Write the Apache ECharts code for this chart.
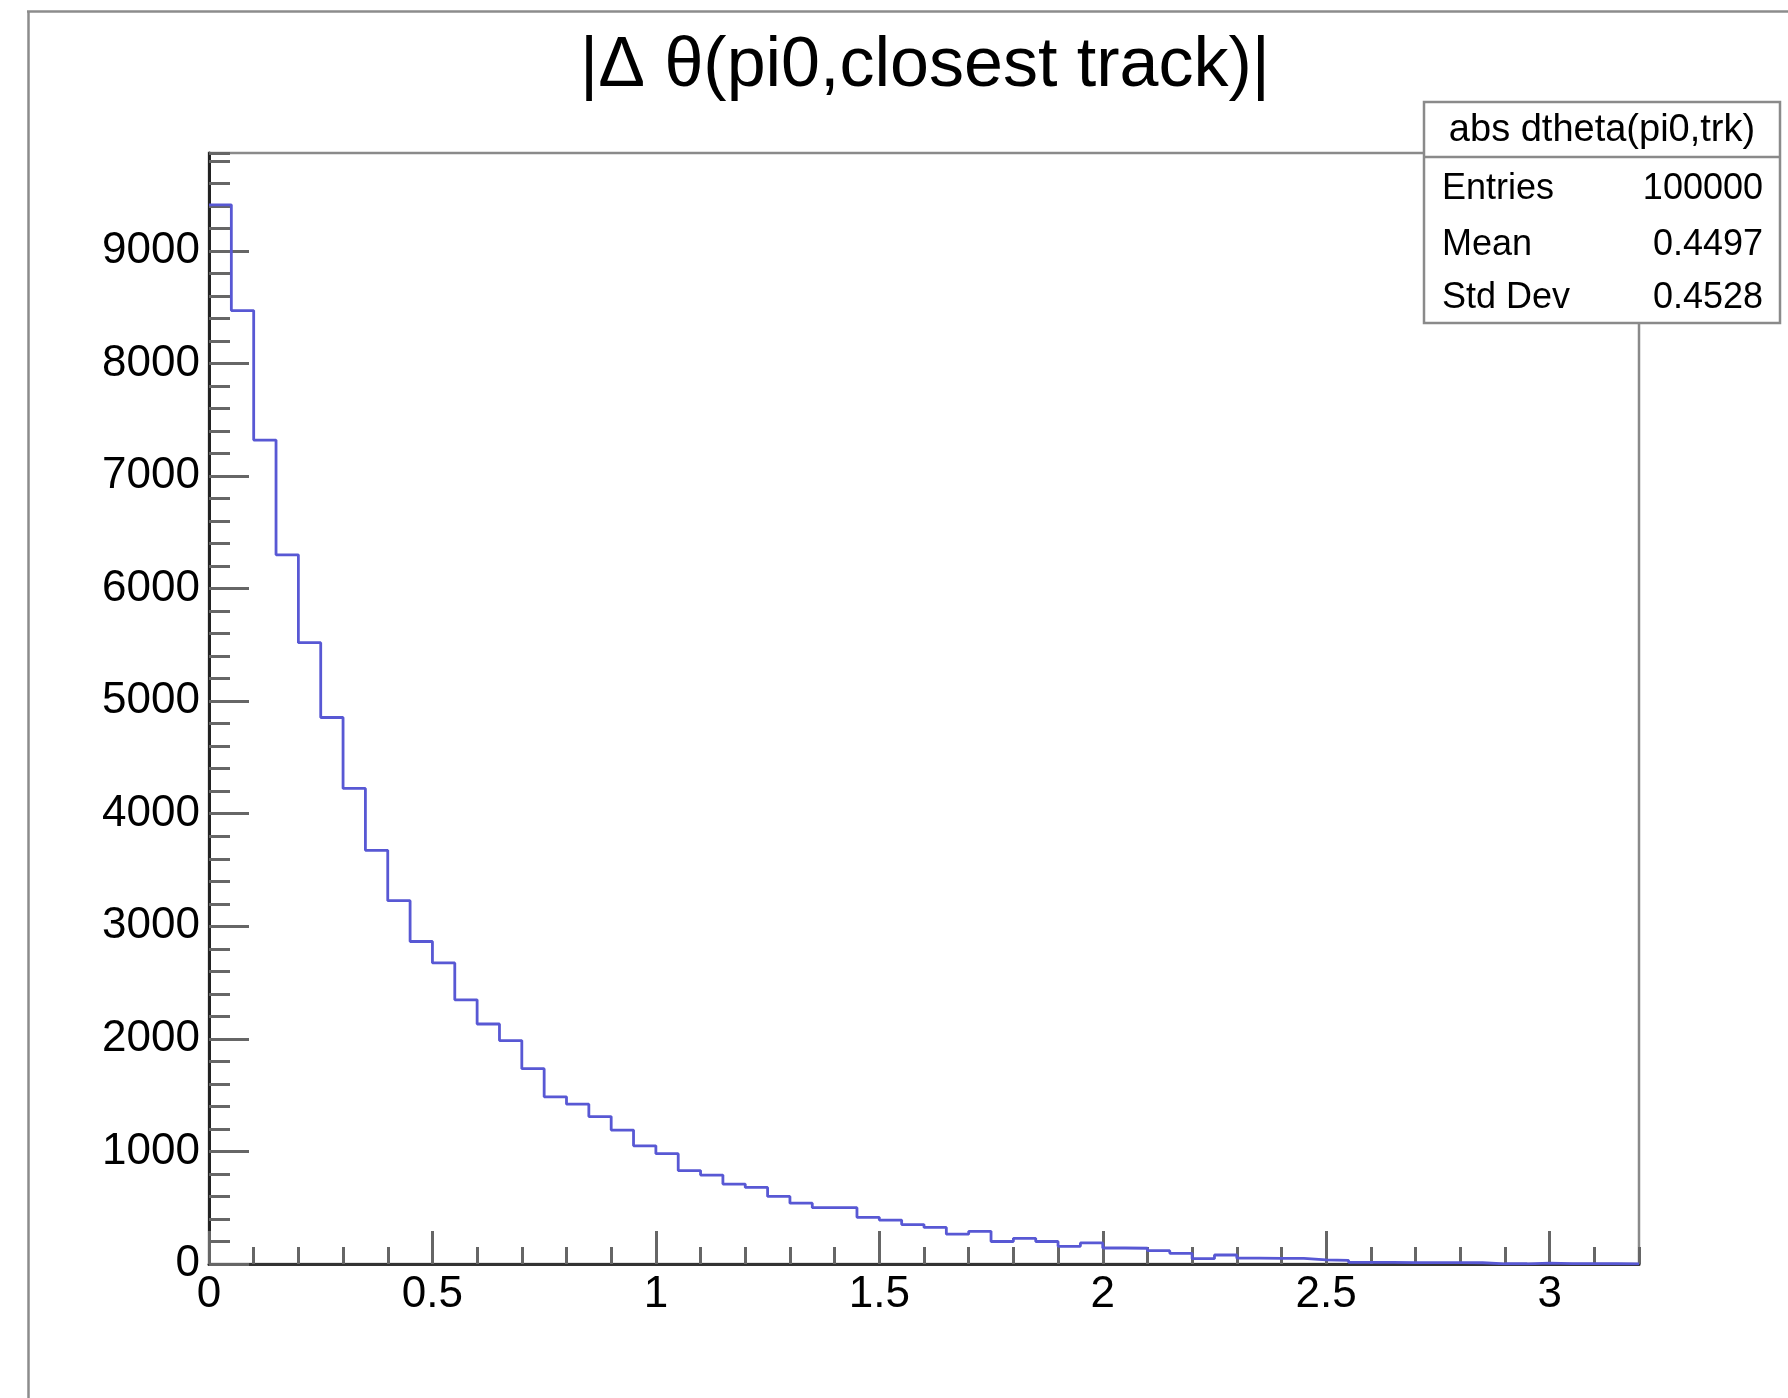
<!DOCTYPE html>
<html>
<head>
<meta charset="utf-8">
<script src="https://cdn.jsdelivr.net/npm/echarts@6/dist/echarts.min.js"></script>
<style>
html,body{margin:0;padding:0;background:#fff;}
#chart{width:1788px;height:1398px;}
</style>
</head>
<body>
<div id="chart"></div>
<script>
// ---- data ----
const titleText = '|\u0394 \u03b8(pi0,closest track)|';
const histName = 'abs dtheta(pi0,trk)';
const histMin = 0;
const binWidth = 0.05;
const counts = [
  9410, 8470, 7320, 6300, 5520, 4855, 4225, 3675, 3228, 2865,
  2675, 2347, 2132, 1985, 1735, 1485, 1420, 1310, 1190, 1050,
  980, 830, 790, 710, 680, 600, 540, 500, 500, 415,
  390, 350, 325, 265, 290, 200, 228, 200, 157, 187,
  142, 140, 118, 95, 47, 80, 52, 50, 50, 36,
  33, 15, 14, 13, 12, 12, 11, 2, 2, 8,
  3, 3, 2, 1
];
const statsLabels = ['Entries', 'Mean', 'Std Dev'];
const statsValues = ['100000', '0.4497', '0.4528'];
const xRange = [0, 3.2];
const yRange = [0, 9870];
const xMajorStep = 0.5, xMinorStep = 0.1;
const yMajorStep = 1000, yMinorStep = 200;

// ---- build ----
const pts = counts.map((c, i) => [histMin + i * binWidth, c]);
pts.push([histMin + counts.length * binWidth, counts[counts.length - 1]]);

const FONT = 'Liberation Sans, Arial, Helvetica, sans-serif';
const chart = echarts.init(document.getElementById('chart'), null, {renderer: 'canvas'});

const gridL = 209, gridR = 149, gridT = 153, gridB = 134;

const statsX = 1424, statsY = 102, statsW = 356, statsH = 221, headerH = 55;
const rowY = [189, 245, 298];

const graphics = [
  {type: 'line', shape: {x1: 28.5, y1: 11, x2: 28.5, y2: 1398}, style: {stroke: '#8c8c8c', lineWidth: 2.5}, z: 1},
  {type: 'line', shape: {x1: 27, y1: 11.5, x2: 1788, y2: 11.5}, style: {stroke: '#8c8c8c', lineWidth: 2.5}, z: 1},
  {type: 'text', x: 925, y: 67, z: 10, style: {text: titleText, fontSize: 70, fontFamily: FONT, fill: '#000', align: 'center', verticalAlign: 'middle'}},
  {type: 'rect', shape: {x: statsX, y: statsY, width: statsW, height: statsH}, style: {fill: '#fff', stroke: '#8a8a8a', lineWidth: 2.5}, z: 50},
  {type: 'line', shape: {x1: statsX, y1: statsY + headerH, x2: statsX + statsW, y2: statsY + headerH}, style: {stroke: '#8a8a8a', lineWidth: 2.5}, z: 51},
  {type: 'text', x: statsX + statsW / 2, y: 131, z: 52, style: {text: histName, fontSize: 38, fontFamily: FONT, fill: '#000', align: 'center', verticalAlign: 'middle'}}
];
statsLabels.forEach((lab, i) => {
  graphics.push({type: 'text', x: 1442, y: rowY[i], z: 52, style: {text: lab, fontSize: 36, fontFamily: FONT, fill: '#000', align: 'left', verticalAlign: 'middle'}});
  graphics.push({type: 'text', x: 1763, y: rowY[i], z: 52, style: {text: statsValues[i], fontSize: 36, fontFamily: FONT, fill: '#000', align: 'right', verticalAlign: 'middle'}});
});

const fmtX = v => String(Math.round(v * 10) / 10);
const fmtY = v => String(Math.round(v));

chart.setOption({
  animation: false,
  backgroundColor: '#fff',
  grid: {left: gridL, right: gridR, top: gridT, bottom: gridB, show: true, borderColor: '#8a8a8a', borderWidth: 2.5, backgroundColor: 'transparent'},
  xAxis: [
    {
      type: 'value', min: xRange[0], max: xRange[1], interval: xMajorStep,
      axisLine: {show: true, onZero: false, lineStyle: {color: '#333', width: 3}},
      axisTick: {show: true, inside: true, length: 33, lineStyle: {color: '#666', width: 3}},
      axisLabel: {show: true, fontSize: 44, fontFamily: FONT, color: '#000', margin: 9, showMaxLabel: false, formatter: fmtX},
      splitLine: {show: false}
    },
    {
      type: 'value', min: xRange[0], max: xRange[1], interval: xMinorStep, position: 'bottom',
      axisLine: {show: false, onZero: false},
      axisTick: {show: true, inside: true, length: 17, lineStyle: {color: '#666', width: 3}},
      axisLabel: {show: false},
      splitLine: {show: false}
    }
  ],
  yAxis: [
    {
      type: 'value', min: yRange[0], max: yRange[1], interval: yMajorStep,
      axisLine: {show: true, onZero: false, lineStyle: {color: '#222', width: 3}},
      axisTick: {show: true, inside: true, length: 40, lineStyle: {color: '#666', width: 3}},
      axisLabel: {show: true, fontSize: 44, fontFamily: FONT, color: '#000', margin: 9, showMaxLabel: false, formatter: fmtY},
      splitLine: {show: false}
    },
    {
      type: 'value', min: yRange[0], max: yRange[1], interval: yMinorStep, position: 'left',
      axisLine: {show: false, onZero: false},
      axisTick: {show: true, inside: true, length: 21, lineStyle: {color: '#666', width: 3}},
      axisLabel: {show: false},
      splitLine: {show: false}
    }
  ],
  series: [{
    type: 'line', xAxisIndex: 0, yAxisIndex: 0, step: 'end',
    data: pts, showSymbol: false, symbol: 'none',
    lineStyle: {color: '#5858d4', width: 2.8},
    z: 5
  }],
  graphic: graphics
});
</script>
</body>
</html>
